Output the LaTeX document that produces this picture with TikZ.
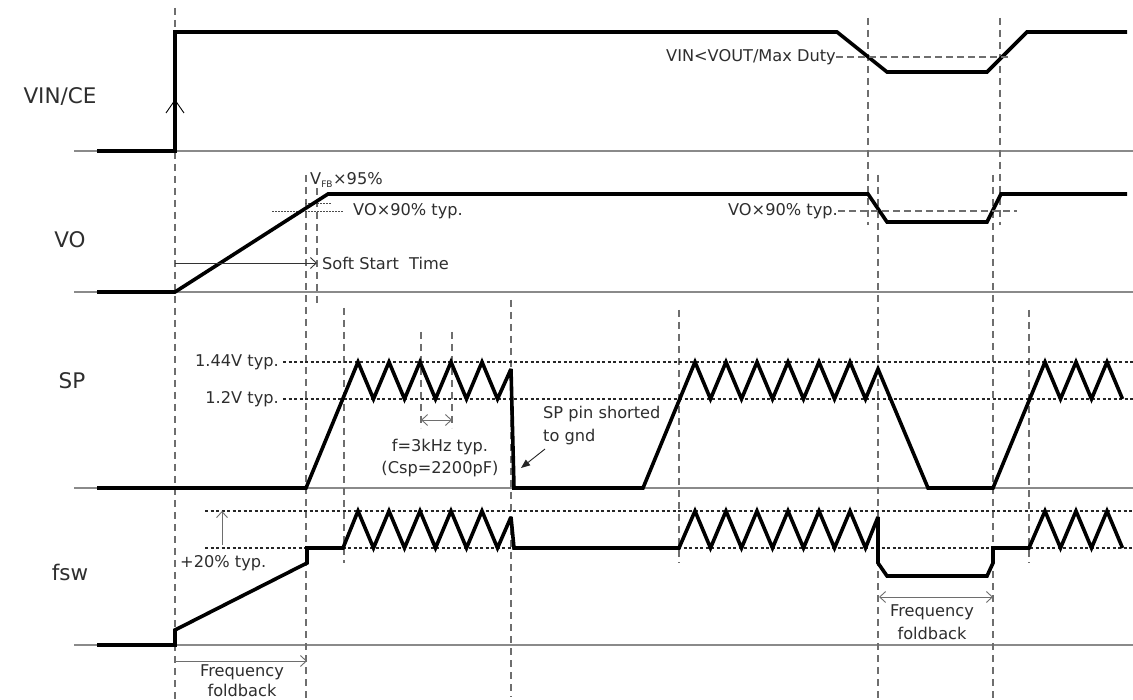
\documentclass[tikz,border=0pt]{standalone}
\usepackage{fontspec}
\setmainfont{DejaVu Sans}
\usetikzlibrary{arrows.meta}
\definecolor{basec}{HTML}{8A8A8A}
\definecolor{dashc}{HTML}{6E6E6E}
\definecolor{txtc}{HTML}{2E2E2E}
\tikzset{
  sig/.style={line width=3.6pt, line join=miter, miter limit=3},
  baseln/.style={line width=1.5pt, basec},
  vdash/.style={line width=1.2pt, dashc, dash pattern=on 7pt off 5pt},
  hdash/.style={line width=1.2pt, dashc, dash pattern=on 7pt off 4pt},
  dotln/.style={line width=1.6pt, black!85, dash pattern=on 3pt off 2.5pt},
  fdot/.style={line width=0.8pt, black!70, dash pattern=on 1.5pt off 1.5pt},
  big/.style={font=\fontsize{21.5}{25}\selectfont, text=txtc, inner sep=0pt},
  small/.style={font=\fontsize{16.2}{19}\selectfont, text=txtc, inner sep=0pt},
  thinarr/.style={line width=0.9pt, dashc, -{Straight Barb[length=6pt,width=11pt]}},
  dblarr/.style={line width=0.9pt, dashc, {Straight Barb[length=6pt,width=11pt]}-{Straight Barb[length=6pt,width=11pt]}}
}
\begin{document}
\begin{tikzpicture}[x=1pt,y=-1pt]
\useasboundingbox[fill=white] (0,0) rectangle (1133,700);
% baselines
\draw[baseln] (74,151) -- (1133,151);
\draw[baseln] (74,292) -- (1133,292);
\draw[baseln] (74,488) -- (1133,488);
\draw[baseln] (74,645) -- (1133,645);
% dashed verticals
\draw[vdash] (175,8) -- (175,700);
\draw[vdash] (306,175) -- (306,700);
\draw[vdash] (317,188) -- (317,307);
\draw[vdash] (344,308) -- (344,563);
\draw[vdash] (421,332) -- (421,428);
\draw[vdash] (452,332) -- (452,428);
\draw[vdash] (511,300) -- (511,697);
\draw[vdash] (679,310) -- (679,563);
\draw[vdash] (868,18) -- (868,225);
\draw[vdash] (878,175) -- (878,700);
\draw[vdash] (993,175) -- (993,700);
\draw[vdash] (1000,18) -- (1000,225);
\draw[vdash] (1029,310) -- (1029,563);
% dotted levels
\draw[dotln] (283,362) -- (1133,362);
\draw[dotln] (283,399) -- (1133,399);
\draw[dotln] (205,511) -- (1133,511);
\draw[dotln] (205,548) -- (1133,548);
\draw[fdot] (272,211) -- (343,211);
\draw[fdot] (305,203) -- (332,203);
% labels
\node[big] (lvin) at (60,97) {VIN/CE};
\node[big] (lvo) at (70,240) {VO};
\node[big] (lsp) at (72,381) {SP};
\node[big] (lfsw) at (70,572) {fsw};
% VIN/CE
\draw[sig] (97,151) -- (175,151) -- (175,32) -- (837,32) -- (887,72) -- (987,72) -- (1027,32) -- (1127,32);
\draw[line width=0.9pt] (166,113) -- (175,100) -- (184,113);
\node[small, anchor=east] (maxduty) at (836,57) {VIN<VOUT/Max Duty};
\coordinate (mdend) at (1008,57);
\draw[hdash] (maxduty.east) -- (mdend);
% VO
\draw[sig] (97,292) -- (175,292) -- (328,194) -- (868,194) -- (887,222) -- (987,222) -- (1001,194) -- (1127,194);
\node[small, anchor=west] (vfb) at (310,180) {V\textsubscript{\fontsize{9}{9}\selectfont FB}×95\%};
\node[small, anchor=west] (vo90a) at (353,211) {VO×90\% typ.};
\node[small, anchor=east] (vo90b) at (838,211) {VO×90\% typ.};
\coordinate (vo90end) at (1017,211);
\draw[hdash] (vo90b.east) -- (vo90end);
\coordinate (ssa) at (175,263);
\coordinate (ssb) at (317,263);
\draw[thinarr, black!80] (ssa) -- (ssb);
\node[small, anchor=west] (sst) at (322,263) {Soft Start\ \ Time};
% SP
\node[small, anchor=east] (l144) at (279,362) {1.44V typ.};
\node[small, anchor=east] (l12) at (279,399) {1.2V typ.};
\draw[sig] (97,488) -- (306,488) -- (358,362) -- (373.5,399) -- (389,362) -- (404.5,399) -- (420,362) -- (435.5,399) -- (451,362) -- (466.5,399) -- (482,362) -- (497.5,399) -- (511,369) -- (514,488) -- (643,488) -- (695,362) -- (710.5,399) -- (726,362) -- (741.5,399) -- (757,362) -- (772.5,399) -- (788,362) -- (803.5,399) -- (819,362) -- (834.5,399) -- (850,362) -- (865.5,399) -- (878,369) -- (928,488) -- (993,488) -- (1045,362) -- (1060.5,399) -- (1076,362) -- (1091.5,399) -- (1107,362) -- (1122.5,399);
\coordinate (fa) at (421,420);
\coordinate (fb) at (452,420);
\draw[dblarr] (fa) -- (fb);
\node[small] (f3k) at (440,447) {f=3kHz typ.};
\node[small] (csp) at (440,469) {(Csp=2200pF)};
\node[small, anchor=west] (sp1) at (543,414) {SP pin shorted};
\node[small, anchor=west] (sp2) at (543,437) {to gnd};
\coordinate (sparr) at (521,468);
\draw[line width=0.9pt, black!85, -{Triangle[length=9pt,width=7pt]}] (sp2.south west) ++(2,4) -- (sparr);
% fsw
\draw[sig] (97,645) -- (175,645) -- (175,630) -- (307,563) -- (307,548) -- (343,548) -- (358,511) -- (373.5,548) -- (389,511) -- (404.5,548) -- (420,511) -- (435.5,548) -- (451,511) -- (466.5,548) -- (482,511) -- (497.5,548) -- (511,517) -- (514,548) -- (679,548) -- (695,511) -- (710.5,548) -- (726,511) -- (741.5,548) -- (757,511) -- (772.5,548) -- (788,511) -- (803.5,548) -- (819,511) -- (834.5,548) -- (850,511) -- (865.5,548) -- (878,517) -- (878,563) -- (887,576) -- (987,576) -- (993,563) -- (993,548) -- (1029,548) -- (1045,511) -- (1060.5,548) -- (1076,511) -- (1091.5,548) -- (1107,511) -- (1122.5,548);
\coordinate (pa) at (222,545);
\coordinate (pb) at (222,511);
\draw[thinarr] (pa) -- (pb);
\node[small, anchor=west] (p20) at (180,563) {+20\% typ.};
\coordinate (ffa) at (175,661);
\coordinate (ffb) at (307,661);
\draw[thinarr] (ffa) -- (ffb);
\node[small] (ff1) at (242,672) {Frequency};
\node[small] (ff2) at (242,690) {foldback};
\coordinate (fra) at (879,597);
\coordinate (frb) at (993,597);
\draw[dblarr] (fra) -- (frb);
\node[small] (fr1) at (932,612) {Frequency};
\node[small] (fr2) at (932,633) {foldback};
\end{tikzpicture}
\end{document}
